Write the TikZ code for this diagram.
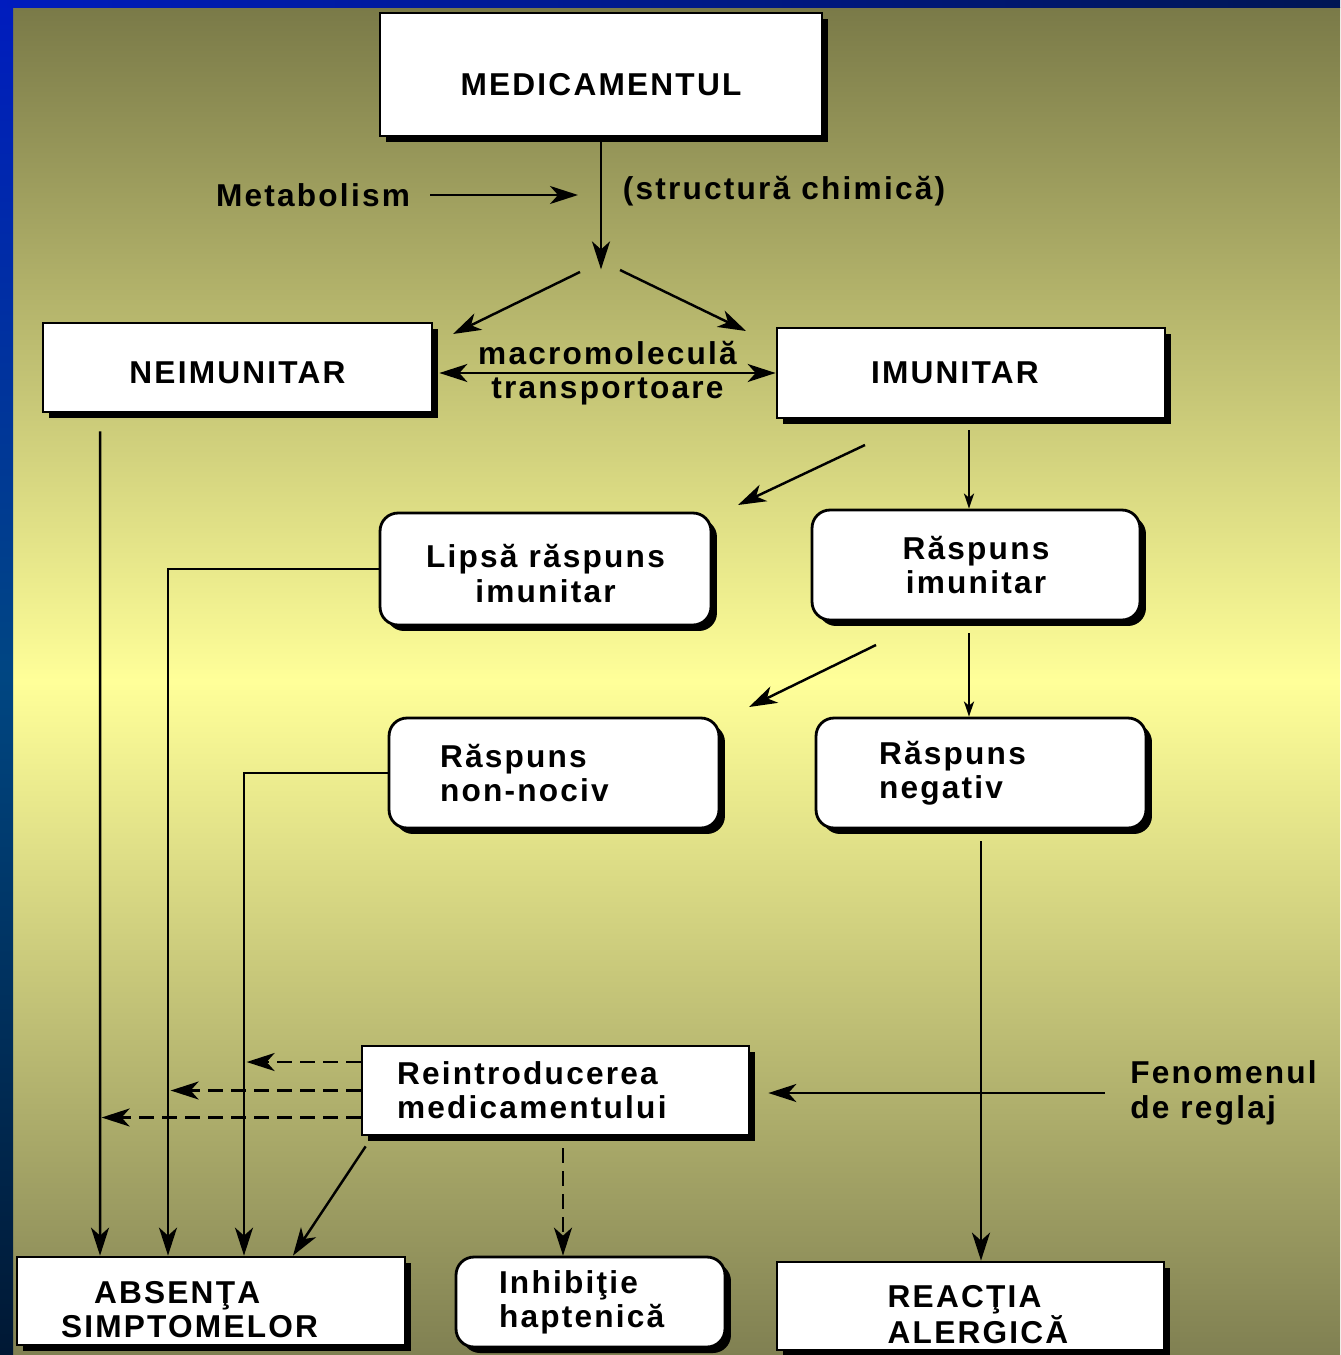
\documentclass[tikz,border=0pt]{standalone}
\usepackage{fontspec}
\setmainfont[LetterSpace=7]{Liberation Sans}
\usetikzlibrary{arrows.meta, shadows}
\definecolor{bgtop}{RGB}{122,122,72}
\definecolor{bgmid}{RGB}{255,255,153}
\definecolor{bgbot}{RGB}{128,128,82}
\definecolor{stripa}{RGB}{0,28,190}
\definecolor{stripb}{RGB}{0,70,130}
\definecolor{stripc}{RGB}{0,24,52}
\definecolor{stripd}{RGB}{0,22,84}

\begin{document}
\begin{tikzpicture}[x=0.02cm, y=-0.02cm]
      \tikzset{box/.style = {shape=rectangle, draw, line width=1.6pt, fill=white, inner sep=0pt, align=center, font=\bfseries\fontsize{18}{19.5}\selectfont, drop shadow={shadow xshift=0.12cm, shadow yshift=-0.12cm, fill=black, opacity=1}}}
      \tikzset{rbox/.style = {box, rounded corners=0.36cm}}
      \tikzset{txt/.style = {inner sep=0pt, align=center, font=\bfseries\fontsize{18}{19.5}\selectfont}}
      \tikzset{conn/.style = {->, > = {Stealth[length=0.56cm, width=0.36cm, inset=0.16cm]}, line width=1.4pt}}
      \tikzset{sconn/.style = {conn, > = {Stealth[length=0.3cm, width=0.2cm, inset=0.08cm]}}}
      \tikzset{dconn/.style = {conn, dash pattern=on 0.3cm off 0.16cm}}

      % background
      \useasboundingbox (0,0) rectangle (1340,1355);
      \shade[top color=bgtop, bottom color=bgbot, middle color=bgmid] (13,8) rectangle (1340,1355);
      \shade[top color=stripa, bottom color=stripc, middle color=stripb] (0,0) rectangle (13,1355);
      \shade[left color=stripa, right color=stripd] (0,0) rectangle (1340,8);

      % boxes
      \node[box, minimum width=8.84cm, minimum height=2.46cm, text height=23.7pt, text depth=0pt] (med) at (601, 74.5) {MEDICAMENTUL};
      \node[box, minimum width=7.78cm, minimum height=1.78cm, text height=18pt, text depth=0pt] (neim) at (237.5, 367.5) {NEIMUNITAR};
      \node[box, minimum width=7.76cm, minimum height=1.8cm, text width=4cm, align=left] (imun) at (971, 373) {IMUNITAR};
      \node[rbox, minimum width=6.62cm, minimum height=2.24cm] (lipsa) at (545.5, 569) {\rule{0pt}{18.5pt}Lipsă răspuns\\imunitar};
      \node[rbox, minimum width=6.56cm, minimum height=2.2cm] (rimun) at (976, 565) {Răspuns\\imunitar};
      \node[rbox, minimum width=6.6cm, minimum height=2.2cm, text width=4.56cm, align=left] (nociv) at (554, 773) {Răspuns\\non-nociv};
      \node[rbox, minimum width=6.6cm, minimum height=2.2cm, text width=4.08cm, align=left] (neg) at (981, 773) {Răspuns\\negativ};
      \node[box, minimum width=7.74cm, minimum height=1.78cm, text width=6.34cm, align=left] (reintro) at (555.5, 1090.5) {Reintroducerea\\medicamentului};
      \node[box, minimum width=7.76cm, minimum height=1.76cm, text width=6cm, align=left] (absenta) at (211, 1301) {\hspace*{0.66cm}\rule{0pt}{22pt}ABSENŢA\\SIMPTOMELOR};
      \node[rbox, minimum width=5.38cm, minimum height=1.8cm, text width=3.66cm, align=left] (inhib) at (590.5, 1302) {Inhibiţie\\haptenică};
      \node[box, minimum width=7.74cm, minimum height=1.76cm, align=left] (reactia) at (970.5, 1306) {\hspace*{0.3cm}\rule{0pt}{22pt}REACŢIA\\\hspace*{0.3cm}ALERGICĂ};

      % labels
      \node[txt] (metab) at (313, 195) {Metabolism};
      \node[txt] (chim) at (784, 191) {(structură chimică)};
      \node[txt, anchor=west, align=left] (fen) at (1130, 1093) {Fenomenul\\de reglaj};

      % free ends
      \coordinate (metabtip) at (578, 195);
      \coordinate (forkl) at (580, 272);
      \coordinate (forkr) at (620, 270);
      \coordinate (tipl) at (453, 334);
      \coordinate (tipr) at (746, 331);
      \coordinate (neimr) at ([xshift=0.12cm]neim.east);
      \coordinate (imunl) at (865, 445);
      \coordinate (lipsatip) at (738, 505);
      \coordinate (imund) at (969, 430);
      \coordinate (rimunl) at (876, 645);
      \coordinate (nociptip) at (749, 707);
      \coordinate (rimund) at (969, 633);
      \coordinate (negd) at ([yshift=-0.24cm]neg.south);
      \coordinate (reintrod) at ([xshift=0.15cm, yshift=-0.24cm]reintro.south);
      \coordinate (reintror) at ([xshift=0.36cm]reintro.east);
      \coordinate (fenl) at ([xshift=-0.5cm]fen.west);

      % connectors
      \draw[conn] ([xshift=0.4cm]metab.east) -- (metabtip);
      \draw[conn] (med.south) -- ++(0, 132);
      \draw[conn] (forkl) -- (tipl);
      \draw[conn] (forkr) -- (tipr);
      \draw[conn, <->] (imun.west -| neimr) -- (imun.west) node[midway, txt] {macromoleculă\\transportoare};
      \draw[conn] ([xshift=-2.75cm, yshift=-0.36cm]neim.south) -- ([xshift=-2.22cm]absenta.north);
      \draw[conn] (imunl) -- (lipsatip);
      \draw[sconn] (imund) -- (imund |- rimun.north);
      \draw[conn] (lipsa.west) -| ([xshift=-0.86cm]absenta.north);
      \draw[conn] (rimunl) -- (nociptip);
      \draw[sconn] (rimund) -- (rimund |- neg.north);
      \draw[conn] (nociv.west) -| ([xshift=0.66cm]absenta.north);
      \draw[conn] (negd) -- (negd |- reactia.north);

      \draw[dconn] ([yshift=0.57cm]reintro.west) -- ++(-114, 0);
      \draw[dconn] (reintro.west) -- ++(-190, 0);
      \draw[dconn] ([yshift=-0.54cm]reintro.west) -- ++(-259, 0);
      \draw[conn] ([xshift=0.1cm, yshift=-0.2cm]reintro.south west) -- ([xshift=1.64cm]absenta.north);
      \draw[dconn] (reintrod) -- (reintrod |- inhib.north);
      \draw[conn] (fenl) -- (fenl -| reintror);
    \end{tikzpicture}
\end{document}
